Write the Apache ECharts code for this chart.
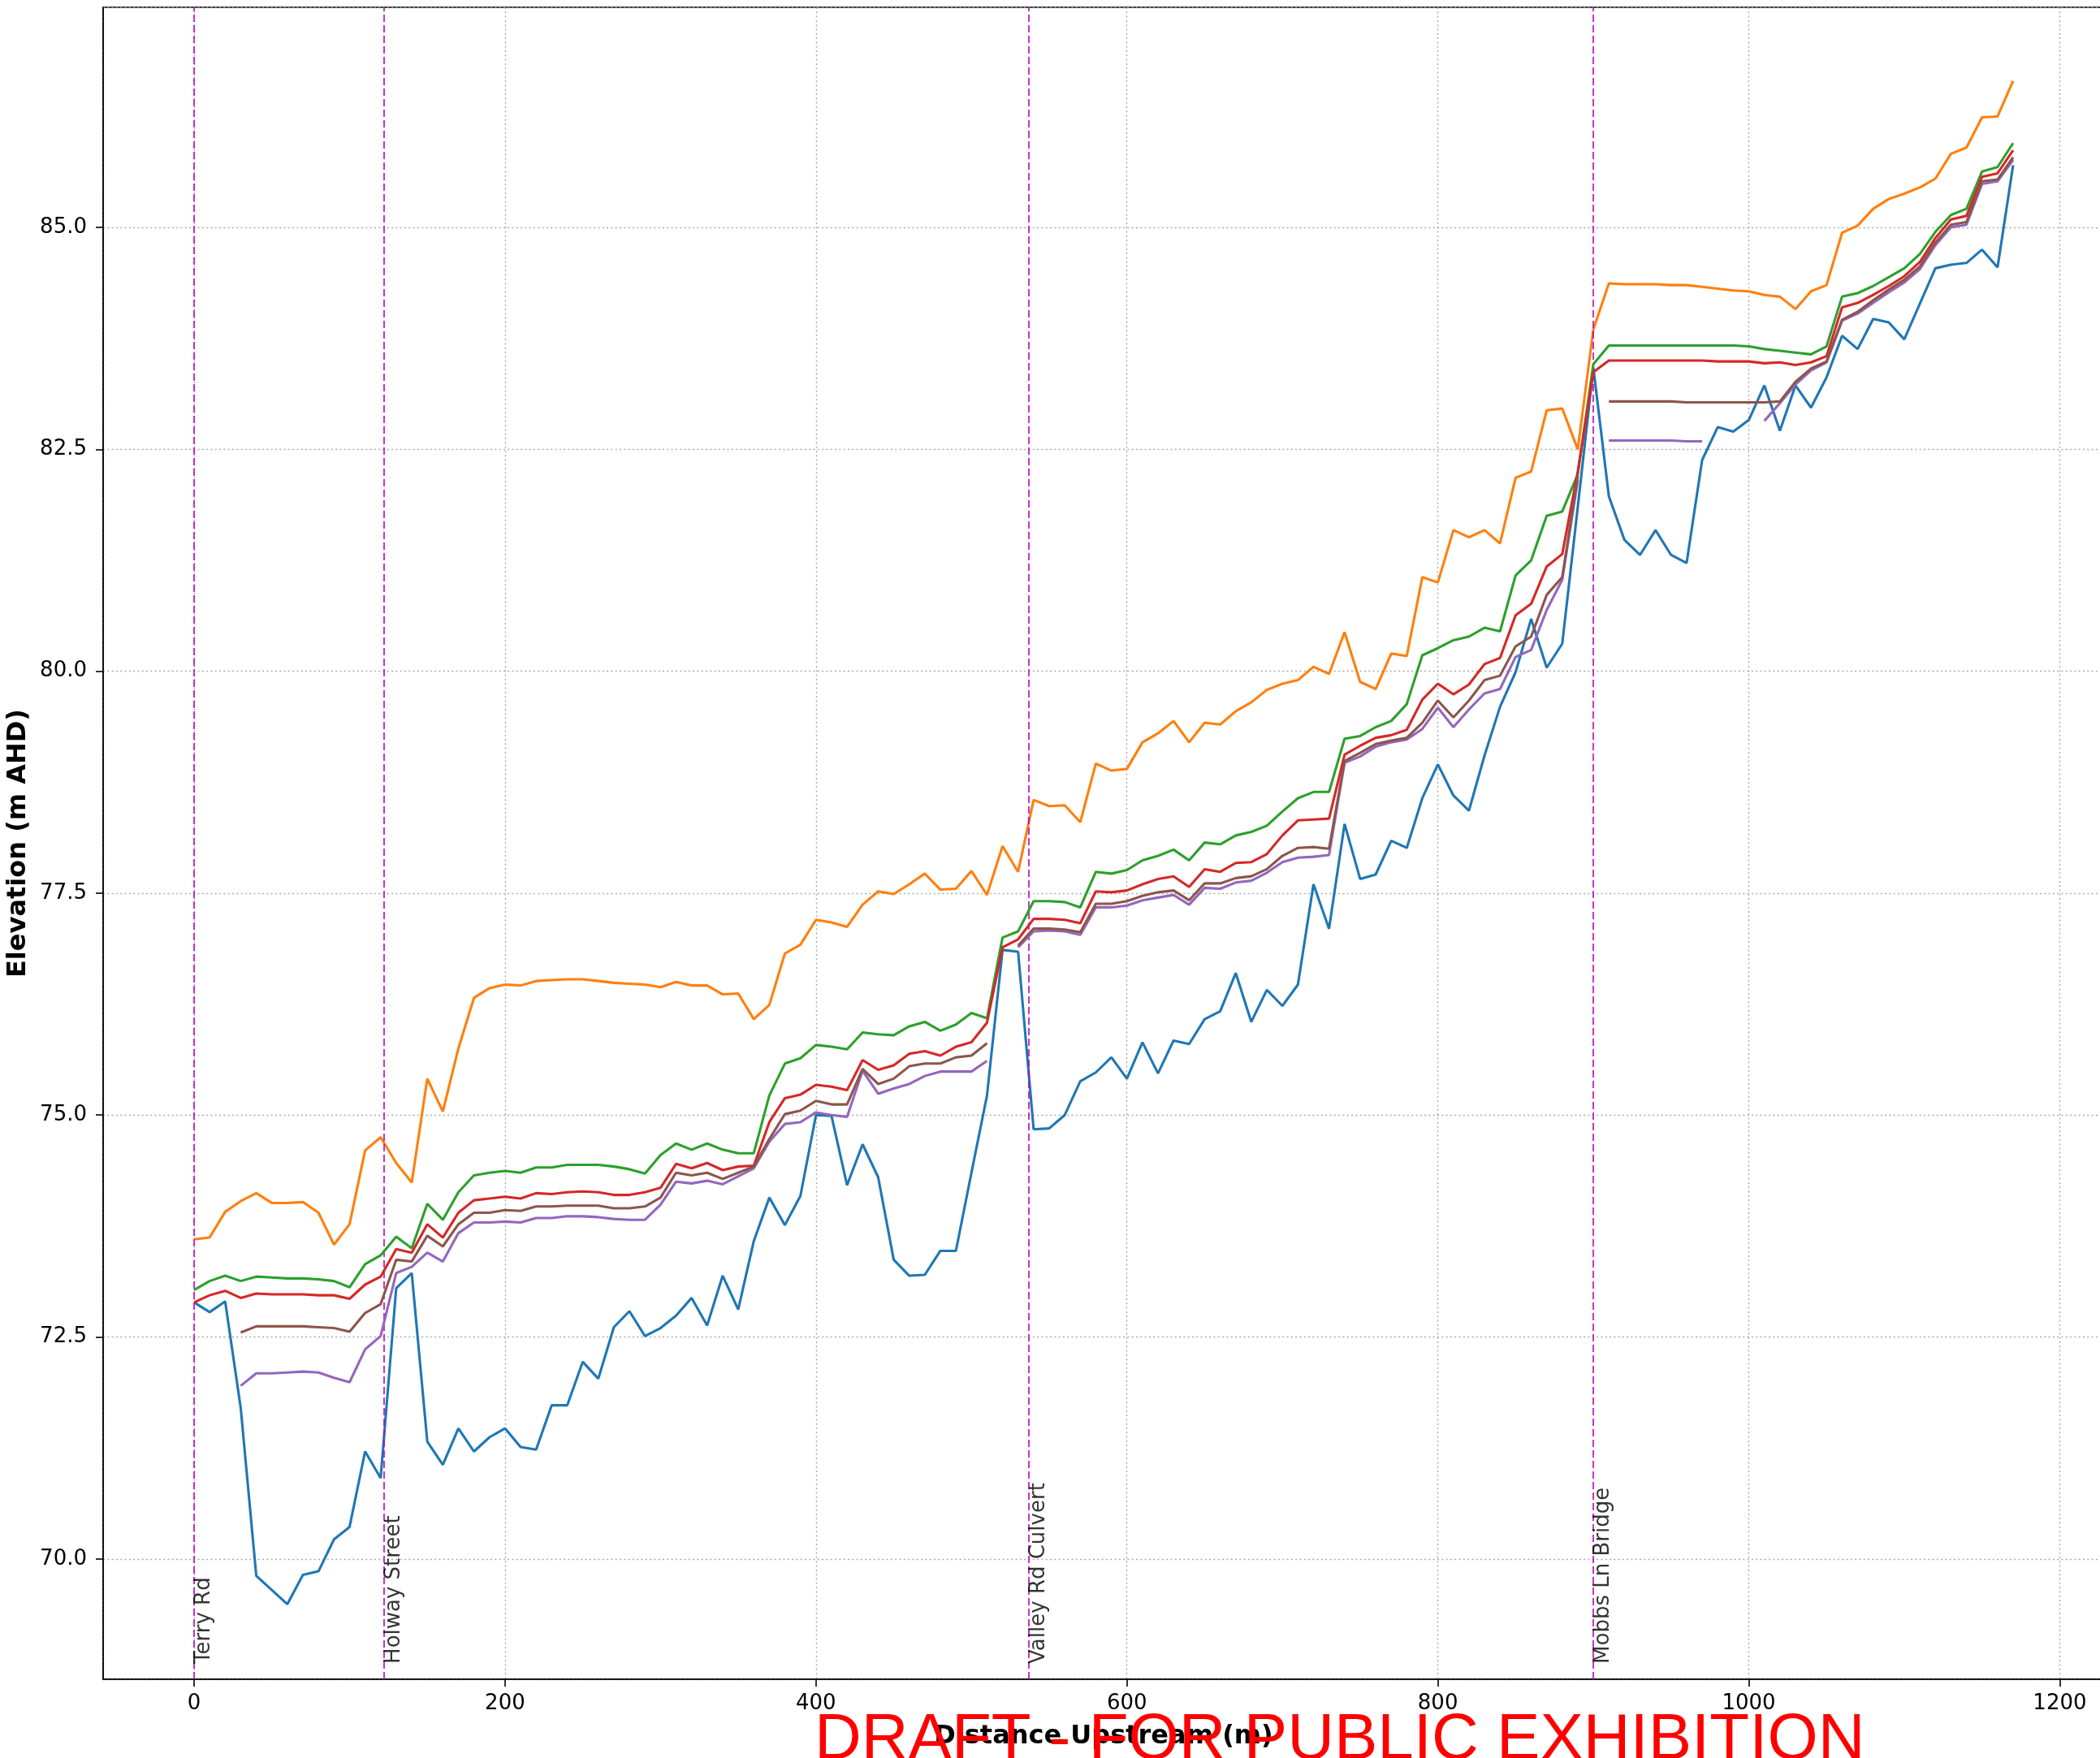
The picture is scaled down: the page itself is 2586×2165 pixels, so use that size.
<!DOCTYPE html>
<html><head><meta charset="utf-8">
<script src="https://cdn.jsdelivr.net/npm/echarts@6/dist/echarts.min.js"></script>
<style>html,body{margin:0;padding:0;background:#fff}#c{width:2586px;height:2165px}</style>
</head><body><div id="c"></div>
<script>
const distance = [0,10,20,30,40,50,60,70,80,90,100,110,120,130,140,150,160,170,180,190,200,210,220,230,240,250,260,270,280,290,300,310,320,330,340,350,360,370,380,390,400,410,420,430,440,450,460,470,480,490,500,510,520,530,540,550,560,570,580,590,600,610,620,630,640,650,660,670,680,690,700,710,720,730,740,750,760,770,780,790,800,810,820,830,840,850,860,870,880,890,900,910,920,930,940,950,960,970,980,990,1000,1010,1020,1030,1040,1050,1060,1070,1080,1090,1100,1110,1120,1130,1140,1150,1160,1170];

const blueSeries = [72.89,72.78,72.90,71.70,69.81,69.65,69.49,69.82,69.86,70.22,
70.36,71.21,70.91,73.05,73.22,71.32,71.06,71.47,71.21,71.37,
71.47,71.26,71.23,71.73,71.73,72.22,72.03,72.61,72.79,72.51,
72.60,72.74,72.94,72.63,73.19,72.81,73.58,74.07,73.76,74.09,
75.00,74.99,74.21,74.67,74.30,73.37,73.19,73.20,73.47,73.47,
74.35,75.22,76.86,76.84,74.84,74.85,75.00,75.38,75.48,75.65,
75.41,75.82,75.47,75.84,75.80,76.08,76.17,76.60,76.05,76.41,
76.23,76.47,77.60,77.10,78.28,77.66,77.71,78.09,78.01,78.57,
78.95,78.60,78.43,79.05,79.60,79.99,80.59,80.04,80.31,81.85,
83.42,81.97,81.48,81.31,81.59,81.31,81.22,82.38,82.75,82.70,
82.83,83.22,82.71,83.22,82.97,83.31,83.78,83.63,83.97,83.93,
83.74,84.14,84.54,84.58,84.60,84.75,84.55,85.70];

const orangeSeries = [73.60,73.62,73.91,74.03,74.12,74.01,74.01,74.02,73.90,73.54,
73.77,74.60,74.75,74.46,74.24,75.41,75.04,75.75,76.32,76.43,
76.47,76.46,76.51,76.52,76.53,76.53,76.51,76.49,76.48,76.47,
76.44,76.50,76.46,76.46,76.36,76.37,76.08,76.24,76.82,76.92,
77.20,77.17,77.12,77.37,77.52,77.49,77.60,77.72,77.54,77.55,
77.75,77.48,78.03,77.74,78.55,78.48,78.49,78.30,78.96,78.88,
78.90,79.20,79.30,79.44,79.20,79.42,79.40,79.55,79.65,79.79,
79.86,79.90,80.05,79.97,80.44,79.88,79.80,80.20,80.17,81.06,
81.00,81.59,81.51,81.59,81.44,82.18,82.25,82.94,82.96,82.50,
83.85,84.37,84.36,84.36,84.36,84.35,84.35,84.33,84.31,84.29,
84.28,84.24,84.22,84.08,84.28,84.35,84.94,85.02,85.21,85.32,
85.38,85.45,85.55,85.83,85.90,86.24,86.25,86.65];

const greenSeries = [73.03,73.13,73.19,73.13,73.18,73.17,73.16,73.16,73.15,73.13,
73.06,73.32,73.42,73.63,73.50,74.00,73.82,74.13,74.32,74.35,
74.37,74.35,74.41,74.41,74.44,74.44,74.44,74.42,74.39,74.34,
74.55,74.68,74.61,74.68,74.61,74.57,74.57,75.22,75.58,75.64,
75.79,75.77,75.74,75.93,75.91,75.90,76.00,76.05,75.95,76.02,
76.15,76.09,77.00,77.07,77.41,77.41,77.40,77.34,77.74,77.72,
77.76,77.87,77.92,77.99,77.87,78.07,78.05,78.15,78.19,78.26,
78.42,78.57,78.64,78.64,79.24,79.27,79.37,79.44,79.63,80.18,
80.26,80.35,80.39,80.49,80.45,81.08,81.25,81.75,81.80,82.22,
83.46,83.67,83.67,83.67,83.67,83.67,83.67,83.67,83.67,83.67,
83.66,83.63,83.61,83.59,83.57,83.66,84.22,84.26,84.34,84.44,
84.54,84.70,84.95,85.14,85.21,85.63,85.68,85.95];

const redSeries = [72.89,72.97,73.02,72.94,72.99,72.98,72.98,72.98,72.97,72.97,
72.93,73.09,73.18,73.49,73.45,73.77,73.62,73.90,74.04,74.06,
74.08,74.06,74.12,74.11,74.13,74.14,74.13,74.10,74.10,74.13,
74.18,74.45,74.40,74.46,74.38,74.42,74.43,74.92,75.19,75.23,
75.34,75.32,75.28,75.62,75.51,75.56,75.69,75.72,75.67,75.77,
75.82,76.04,76.89,76.98,77.21,77.21,77.20,77.16,77.52,77.51,
77.53,77.60,77.66,77.69,77.57,77.77,77.74,77.84,77.85,77.94,
78.15,78.32,78.33,78.34,79.06,79.16,79.25,79.28,79.34,79.68,
79.86,79.74,79.85,80.08,80.15,80.63,80.76,81.18,81.32,82.25,
83.37,83.50,83.50,83.50,83.50,83.50,83.50,83.50,83.49,83.49,
83.49,83.47,83.48,83.45,83.48,83.55,84.10,84.15,84.24,84.34,
84.45,84.61,84.88,85.09,85.13,85.57,85.61,85.87];

const purpleSeries = [null,null,null,71.95,72.09,72.09,72.10,72.11,72.10,72.04,
71.99,72.36,72.51,73.22,73.29,73.45,73.35,73.67,73.79,73.79,
73.80,73.79,73.84,73.84,73.86,73.86,73.85,73.83,73.82,73.82,
73.99,74.25,74.23,74.26,74.22,74.31,74.40,74.70,74.90,74.92,
75.03,75.00,74.98,75.50,75.24,75.30,75.35,75.44,75.49,75.49,
75.49,75.61,null,76.89,77.07,77.08,77.07,77.03,77.34,77.34,
77.36,77.42,77.45,77.48,77.37,77.56,77.55,77.62,77.64,77.73,
77.85,77.90,77.91,77.93,78.97,79.04,79.15,79.20,79.23,79.35,
79.59,79.37,79.57,79.75,79.80,80.16,80.24,80.69,81.03,82.15,
null,82.60,82.60,82.60,82.60,82.60,82.59,82.59,null,null,
null,82.82,83.02,83.23,83.39,83.48,83.95,84.03,84.15,84.27,
84.38,84.53,84.80,85.00,85.03,85.49,85.52,85.76];

const brownSeries = [null,null,null,72.55,72.62,72.62,72.62,72.62,72.61,72.60,
72.56,72.77,72.87,73.37,73.35,73.64,73.52,73.77,73.90,73.90,
73.93,73.92,73.97,73.97,73.98,73.98,73.98,73.95,73.95,73.97,
74.07,74.35,74.32,74.35,74.28,74.35,74.42,74.73,75.01,75.05,
75.16,75.12,75.12,75.52,75.35,75.41,75.55,75.58,75.58,75.65,
75.67,75.81,null,76.91,77.10,77.10,77.09,77.06,77.38,77.38,
77.41,77.47,77.51,77.53,77.42,77.61,77.61,77.67,77.69,77.77,
77.92,78.01,78.02,78.00,78.99,79.08,79.18,79.22,79.25,79.42,
79.67,79.48,79.67,79.90,79.95,80.28,80.39,80.86,81.06,82.20,
null,83.04,83.04,83.04,83.04,83.04,83.03,83.03,83.03,83.03,
83.03,83.03,83.04,83.26,83.41,83.49,83.96,84.05,84.18,84.30,
84.41,84.56,84.83,85.03,85.06,85.52,85.54,85.79];

const bridgeNames = ['Terry Rd', 'Holway Street', 'Valley Rd Culvert', 'Mobbs Ln Bridge'];
const bridgeX = [0, 122, 537, 900];
const xTicks = [0, 200, 400, 600, 800, 1000, 1200];
const yTicks = [70.0, 72.5, 75.0, 77.5, 80.0, 82.5, 85.0];
const xAxisTitle = 'Distance Upstream (m)';
const yAxisTitle = 'Elevation (m AHD)';
const watermark = 'DRAFT - FOR PUBLIC EXHIBITION';

const FONT = 'DejaVu Sans';
const X_MIN = -58.5, X_MAX = 1228.5, Y_MIN = 68.644, Y_MAX = 87.48;
const colors = ['#1f77b4', '#ff7f0e', '#2ca02c', '#d62728', '#9467bd', '#8c564b'];
const seriesList = [blueSeries, orangeSeries, greenSeries, redSeries, purpleSeries, brownSeries];

const chart = echarts.init(document.getElementById('c'), null, {renderer: 'canvas'});

const lineSeries = seriesList.map((arr, k) => ({
  type: 'line',
  data: distance.map((d, i) => [d, arr[i]]),
  showSymbol: false,
  symbol: 'none',
  connectNulls: false,
  lineStyle: {color: colors[k], width: 3.1},
  itemStyle: {color: colors[k]},
  z: 3 + k,
  silent: true
}));

const gridLine = {show: true, lineStyle: {color: '#a8a8a8', width: 1.4, type: [2, 3.3]}};

chart.setOption({
  animation: false,
  backgroundColor: '#ffffff',
  grid: {left: 127, top: 9, width: 2464, height: 2059, show: true, borderColor: '#000', borderWidth: 1.6,
    backgroundColor: 'transparent', containLabel: false, outerBoundsMode: 'none'},
  xAxis: {
    type: 'value', min: X_MIN, max: X_MAX,
    minInterval: xTicks[1] - xTicks[0], maxInterval: xTicks[1] - xTicks[0],
    name: xAxisTitle, nameLocation: 'middle', nameGap: 55,
    nameTextStyle: {fontFamily: FONT, fontWeight: 'bold', fontSize: 32, color: '#000'},
    axisLine: {show: true, onZero: false, lineStyle: {color: '#000', width: 1.6}},
    axisTick: {show: true, inside: false, length: 9, lineStyle: {color: '#000', width: 1.6}},
    axisLabel: {fontFamily: FONT, fontSize: 26, color: '#000', margin: 17, showMinLabel: false, showMaxLabel: false,
      formatter: v => String(v)},
    splitLine: gridLine
  },
  yAxis: {
    type: 'value', min: Y_MIN, max: Y_MAX,
    minInterval: yTicks[1] - yTicks[0], maxInterval: yTicks[1] - yTicks[0],
    name: yAxisTitle, nameLocation: 'middle', nameGap: 88, nameRotate: 90,
    nameTextStyle: {fontFamily: FONT, fontWeight: 'bold', fontSize: 32, color: '#000'},
    axisLine: {show: true, onZero: false, lineStyle: {color: '#000', width: 1.6}},
    axisTick: {show: true, inside: false, length: 9, lineStyle: {color: '#000', width: 1.6}},
    axisLabel: {fontFamily: FONT, fontSize: 26, color: '#000', margin: 20, showMinLabel: false, showMaxLabel: false,
      formatter: v => v.toFixed(1)},
    splitLine: gridLine
  },
  series: lineSeries.concat([{
    type: 'scatter',
    data: bridgeX.map((x, i) => ({value: [x, Y_MIN + 0.17], name: bridgeNames[i]})),
    symbolSize: 1,
    itemStyle: {color: 'rgba(0,0,0,0)'},
    silent: true,
    z: 20,
    label: {show: true, formatter: '{b}', position: [0, 0], align: 'left', verticalAlign: 'top', rotate: 90,
      fontFamily: FONT, fontSize: 26, color: '#000', distance: 0},
    markLine: {
      silent: true, symbol: ['none', 'none'], animation: false,
      label: {show: false},
      lineStyle: {color: '#bf00bf', type: [9, 4], width: 1.6},
      data: bridgeX.map(x => ({xAxis: x}))
    }
  }]),
  graphic: [{
    type: 'text', left: 1003, top: 2104, z: 100,
    style: {text: watermark, fill: '#ff0000', font: '80px "Liberation Sans"'}
  }]
});
</script></body></html>
